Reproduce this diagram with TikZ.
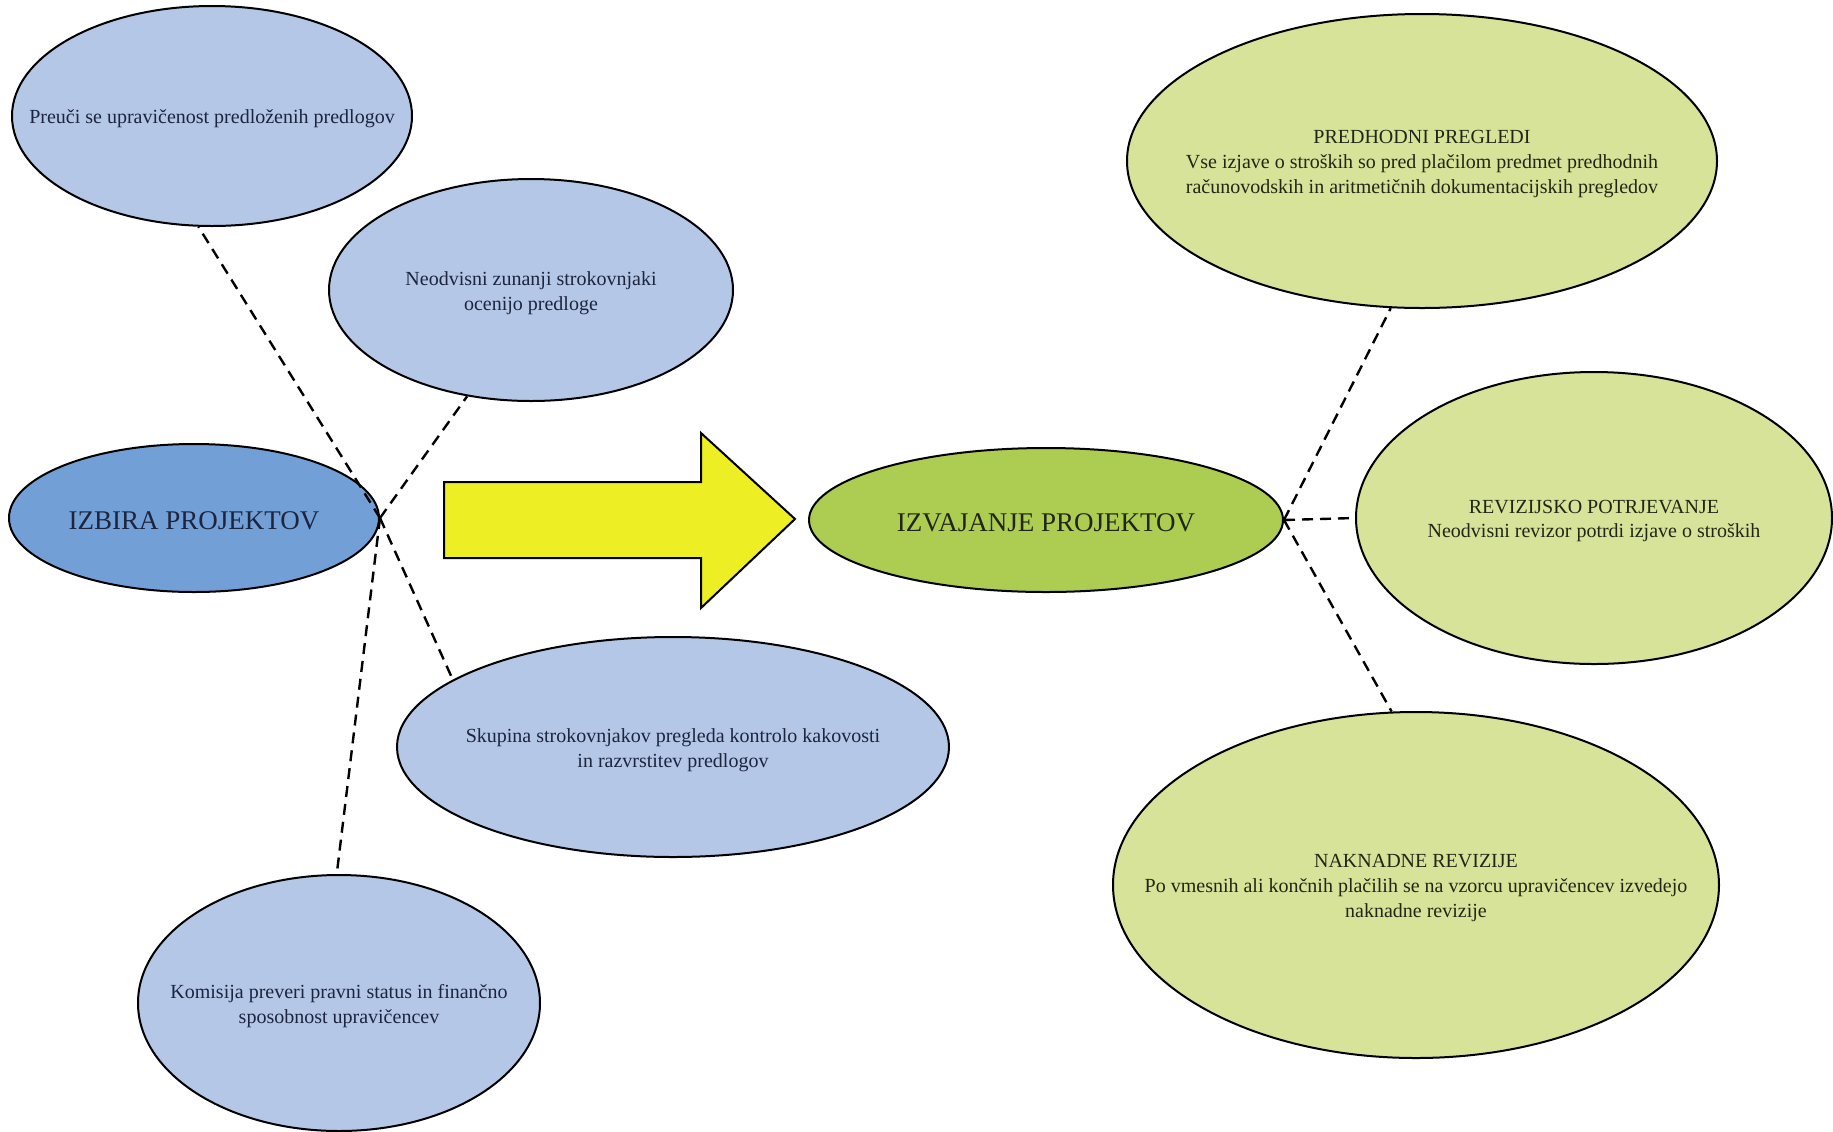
\documentclass[tikz,border=0pt]{standalone}
\usepackage{fontspec}
\setmainfont{Liberation Serif}
\usetikzlibrary{shapes.geometric}
\definecolor{lblue}{RGB}{180,199,231}
\definecolor{mblue}{RGB}{114,160,214}
\definecolor{lgreen}{RGB}{214,227,152}
\definecolor{mgreen}{RGB}{172,205,82}
\definecolor{ayellow}{RGB}{238,238,36}
\definecolor{navytext}{RGB}{28,36,62}
\definecolor{greentext}{RGB}{34,38,22}
\tikzset{
  ell/.style={ellipse, draw=black, line width=1pt, inner sep=0pt},
  bluee/.style={ell, fill=lblue},
  greene/.style={ell, fill=lgreen},
  mainblue/.style={ell, fill=mblue},
  maingreen/.style={ell, fill=mgreen},
  btxt/.style={align=center, inner sep=0pt, yshift=-1.5pt, text=navytext, font=\fontsize{10}{12.3}\selectfont},
  gtxt/.style={align=center, inner sep=0pt, yshift=-1.5pt, text=greentext, font=\fontsize{10}{12.3}\selectfont},
  bigb/.style={btxt, font=\fontsize{13.5}{15}\selectfont},
  bigg/.style={gtxt, font=\fontsize{13.5}{15}\selectfont},
  link/.style={draw=black, line width=1.2pt, dash pattern=on 5.5pt off 3.5pt}
}
\begin{document}
\begin{tikzpicture}[x=0.5pt,y=-0.5pt]
\useasboundingbox (0,0) rectangle (1833,1131);
\node[bluee, minimum width=200pt, minimum height=110pt] (pre) at (212,116) {};
\node[btxt] (pre-t) at (pre) {Preuči se upravičenost predloženih predlogov};
\node[bluee, minimum width=202pt, minimum height=111pt] (neo) at (531,290) {};
\node[btxt] (neo-t) at (neo) {Neodvisni zunanji strokovnjaki\\ocenijo predloge};
\node[mainblue, minimum width=185pt, minimum height=74pt] (izb) at (194,518) {};
\node[bigb] (izb-t) at (izb) {IZBIRA PROJEKTOV};
\node[bluee, minimum width=276pt, minimum height=110pt] (sku) at (673,747) {};
\node[btxt] (sku-t) at (sku) {Skupina strokovnjakov pregleda kontrolo kakovosti\\in razvrstitev predlogov};
\node[bluee, minimum width=201pt, minimum height=128pt] (kom) at (339,1003) {};
\node[btxt] (kom-t) at (kom) {Komisija preveri pravni status in finančno\\sposobnost upravičencev};
\node[maingreen, minimum width=237pt, minimum height=72pt] (izv) at (1046,520) {};
\node[bigg] (izv-t) at (izv) {IZVAJANJE PROJEKTOV};
\node[greene, minimum width=295pt, minimum height=147pt] (pred) at (1422,161) {};
\node[gtxt] (pred-t) at (pred) {PREDHODNI PREGLEDI\\Vse izjave o stroških so pred plačilom predmet predhodnih\\računovodskih in aritmetičnih dokumentacijskih pregledov};
\node[greene, minimum width=238pt, minimum height=146pt] (rev) at (1594,518) {};
\node[gtxt] (rev-t) at (rev) {REVIZIJSKO POTRJEVANJE\\Neodvisni revizor potrdi izjave o stroških};
\node[greene, minimum width=303pt, minimum height=173pt] (nak) at (1416,885) {};
\node[gtxt] (nak-t) at (nak) {NAKNADNE REVIZIJE\\Po vmesnih ali končnih plačilih se na vzorcu upravičencev izvedejo\\naknadne revizije};
% dashed connectors
\draw[link] (izb.east) -- (pre.263);
\draw[link] (izb.east) -- (neo.239);
\draw[link] (izb.east) -- (sku.163);
\draw[link] (izb.east) -- (kom.91);
\draw[link] (izv.east) -- (pred.258.5);
\draw[link] (izv.east) -- (rev.west);
\draw[link] (izv.east) -- (nak.98.6);
% big arrow
\draw[fill=ayellow, line width=1pt, line join=miter]
  (444,482) -- (701,482) -- (701,433) -- (795,519) -- (701,608) -- (701,558) -- (444,558) -- cycle;
\end{tikzpicture}
\end{document}
